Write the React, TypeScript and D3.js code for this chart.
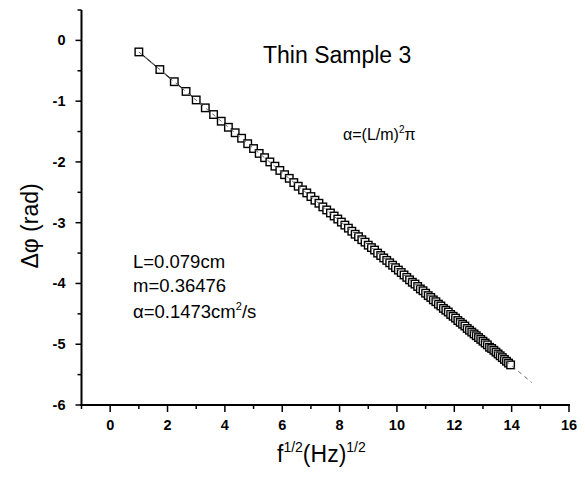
import React from "react";
import * as d3 from "d3";

// f^(1/2) values (Hz^1/2)
const xValues = [
  1.0, 1.732, 2.236, 2.646, 3.0, 3.317, 3.606, 3.873, 4.123, 4.359, 4.583, 4.796, 5.0, 5.196, 5.385, 5.568,
  5.745, 5.916, 6.083, 6.245, 6.403, 6.557, 6.708, 6.856, 7.0, 7.141, 7.28, 7.416, 7.55, 7.681, 7.81, 7.937,
  8.062, 8.185, 8.307, 8.426, 8.544, 8.66, 8.775, 8.888, 9.0, 9.11, 9.22, 9.327, 9.434, 9.539, 9.644, 9.747,
  9.849, 9.95, 10.05, 10.149, 10.247, 10.344, 10.44, 10.536, 10.63, 10.724, 10.817, 10.909, 11.0, 11.091,
  11.18, 11.269, 11.358, 11.446, 11.533, 11.619, 11.705, 11.79, 11.874, 11.958, 12.042, 12.124, 12.207,
  12.288, 12.369, 12.45, 12.53, 12.61, 12.689, 12.767, 12.845, 12.923, 13.0, 13.077, 13.153, 13.229, 13.304,
  13.379, 13.454, 13.528, 13.601, 13.675, 13.748, 13.82, 13.892, 13.964,
];
// Δφ values (rad)
const yValues = [
  -0.19, -0.48, -0.68, -0.84, -0.98, -1.11, -1.22, -1.33, -1.43, -1.52, -1.61, -1.7, -1.78, -1.86, -1.93, -2.0,
  -2.07, -2.14, -2.21, -2.27, -2.34, -2.4, -2.46, -2.51, -2.57, -2.63, -2.68, -2.74, -2.79, -2.84, -2.89, -2.94,
  -2.99, -3.04, -3.09, -3.14, -3.19, -3.23, -3.28, -3.32, -3.37, -3.41, -3.45, -3.5, -3.54, -3.58, -3.62, -3.66,
  -3.7, -3.74, -3.78, -3.82, -3.86, -3.9, -3.94, -3.98, -4.01, -4.05, -4.09, -4.12, -4.16, -4.2,
  -4.23, -4.27, -4.3, -4.34, -4.37, -4.41, -4.44, -4.47, -4.51, -4.54, -4.57, -4.61, -4.64,
  -4.67, -4.7, -4.74, -4.77, -4.8, -4.83, -4.86, -4.89, -4.92, -4.95, -4.98, -5.01, -5.05, -5.07,
  -5.1, -5.13, -5.16, -5.19, -5.22, -5.25, -5.28, -5.31, -5.34,
];
// linear fit line end points
const fitX = [1.0, 14.7];
const fitY = [-0.19, -5.63];

const xMajorTicks = [0, 2, 4, 6, 8, 10, 12, 14, 16];
const xMinorTicks = [-1, 1, 3, 5, 7, 9, 11, 13, 15];
const yMajorTicks = [-6, -5, -4, -3, -2, -1, 0];
const yMinorTicks = [-5.5, -4.5, -3.5, -2.5, -1.5, -0.5, 0.5];

const FONT = "'Liberation Sans', Arial, sans-serif";

export default function App() {
  const x = d3.scaleLinear().domain([-1, 16]).range([81.5, 569]);
  const y = d3.scaleLinear().domain([-6, 0.5]).range([405, 10]);
  const pts = xValues.map((v, i) => [v, yValues[i]] as [number, number]);
  const line = d3
    .line<[number, number]>()
    .x((d) => x(d[0]))
    .y((d) => y(d[1]));
  const fitPts = fitX.map((v, i) => [v, fitY[i]] as [number, number]);
  const ms = 7.5;
  const x0 = x(-1);
  const yBase = y(-6);

  return (
    <svg
      width={585}
      height={479}
      style={{ position: "absolute", left: 0, top: 0, background: "#fff" }}
      fontFamily={FONT}
    >
      <rect x={0} y={0} width={585} height={479} fill="#fff" />
      {/* data connecting line */}
      <path d={line(pts) || ""} fill="none" stroke="#000" strokeWidth={1.1} />
      {/* markers */}
      {pts.map((d, i) => (
        <rect
          key={i}
          x={x(d[0]) - ms / 2}
          y={y(d[1]) - ms / 2}
          width={ms}
          height={ms}
          fill="#fff"
          stroke="#000"
          strokeWidth={1.4}
        />
      ))}
      {/* fit line */}
      <path
        d={line(fitPts) || ""}
        fill="none"
        stroke="#666"
        strokeWidth={1}
        strokeDasharray="4,4"
      />

      {/* axes */}
      <line x1={x0} x2={x0} y1={y(0.5)} y2={yBase + 1} stroke="#000" strokeWidth={2} />
      <line x1={x0 - 1} x2={x(16) + 1} y1={yBase} y2={yBase} stroke="#000" strokeWidth={2} />
      {yMajorTicks.map((t) => (
        <g key={"ym" + t}>
          <line x1={x0 - 6} x2={x0} y1={y(t)} y2={y(t)} stroke="#000" strokeWidth={1.5} />
          <text
            x={x0 - 16}
            y={y(t) + 5}
            textAnchor="end"
            fontSize={14.5}
            fontWeight="bold"
          >
            {t}
          </text>
        </g>
      ))}
      {yMinorTicks.map((t) => (
        <line key={"yn" + t} x1={x0 - 4} x2={x0} y1={y(t)} y2={y(t)} stroke="#000" strokeWidth={1.5} />
      ))}
      {xMajorTicks.map((t) => (
        <g key={"xm" + t}>
          <line x1={x(t)} x2={x(t)} y1={yBase} y2={yBase + 7} stroke="#000" strokeWidth={1.5} />
          <text x={x(t)} y={yBase + 25} textAnchor="middle" fontSize={14.5} fontWeight="bold">
            {t}
          </text>
        </g>
      ))}
      {xMinorTicks.map((t) => (
        <line key={"xn" + t} x1={x(t)} x2={x(t)} y1={yBase} y2={yBase + 4} stroke="#000" strokeWidth={1.5} />
      ))}

      {/* axis titles */}
      <text
        transform={`translate(38,226) rotate(-90)`}
        textAnchor="middle"
        fontSize={23}
      >
        Δφ (rad)
      </text>
      <text x={277} y={462} fontSize={23}>
        f
        <tspan fontSize={14} dy={-10}>1/2</tspan>
        <tspan dy={10}>(Hz)</tspan>
        <tspan fontSize={14} dy={-10}>1/2</tspan>
      </text>

      {/* annotations */}
      <text x={263} y={63} fontSize={23}>
        Thin Sample 3
      </text>
      <text x={343} y={140} fontSize={16}>
        α=(L/m)
        <tspan fontSize={10} dy={-7}>2</tspan>
        <tspan dy={7}>π</tspan>
      </text>
      <text x={133} y={268} fontSize={18.5}>
        L=0.079cm
      </text>
      <text x={133} y={292} fontSize={18.5}>
        m=0.36476
      </text>
      <text x={133} y={318} fontSize={18.5}>
        α=0.1473cm
        <tspan fontSize={11} dy={-8}>2</tspan>
        <tspan dy={8}>/s</tspan>
      </text>
    </svg>
  );
}
